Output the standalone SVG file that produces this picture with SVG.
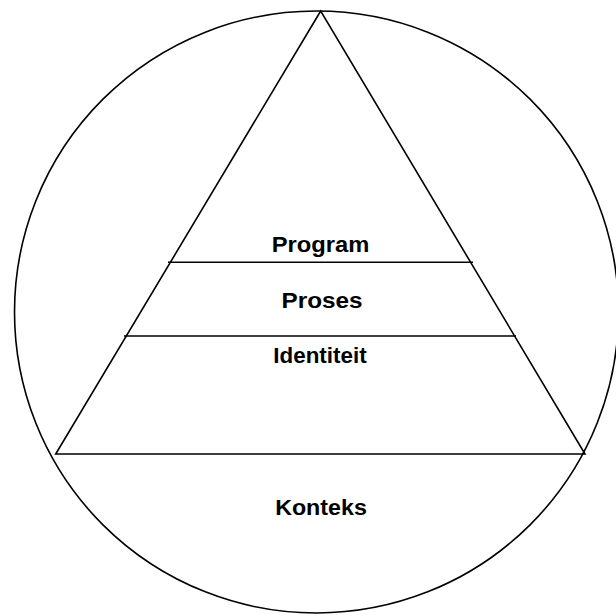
<svg xmlns="http://www.w3.org/2000/svg" width="616" height="615" viewBox="0 0 616 615">
<style>
.s{fill:none;stroke:#000;stroke-width:1.6}
.t{font-family:"Liberation Sans",Arial,sans-serif;font-weight:bold;font-size:22px;fill:#000;text-anchor:middle}
</style>
<rect width="616" height="615" fill="#fff"/>
<g id="circle"><ellipse class="s" cx="316.5" cy="312" rx="302" ry="301"/></g>
<g id="pyramid"><polygon class="s" points="320.7,11 55.7,454 585,454"/></g>
<g id="connectors">
<line class="s" x1="168" y1="262.3" x2="473" y2="262.3"/>
<line class="s" x1="124" y1="336" x2="516" y2="336"/>
</g>
<g id="program"><text class="t" x="320.5" y="252" textLength="97.6" lengthAdjust="spacingAndGlyphs">Program</text></g>
<g id="proses"><text class="t" x="322" y="307.7" textLength="81" lengthAdjust="spacingAndGlyphs">Proses</text></g>
<g id="identiteit"><text class="t" x="320" y="362.5" textLength="93.3" lengthAdjust="spacingAndGlyphs">Identiteit</text></g>
<g id="konteks"><text class="t" x="321" y="515" textLength="91.7" lengthAdjust="spacingAndGlyphs">Konteks</text></g>
</svg>
